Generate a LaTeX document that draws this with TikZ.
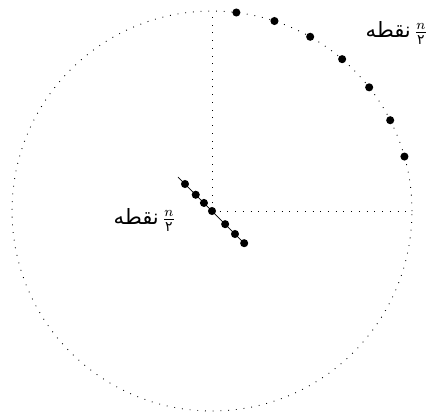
\documentclass[tikz,border=0pt]{standalone}
\usepackage{amsmath}
\usepackage{fontspec}
\newfontfamily\arabicfont[Script=Arabic]{DejaVu Sans}
\TeXXeTstate=1
\newcommand{\halfpts}{{\arabicfont\beginR نقطه\endR}\,$\frac{n}{\text{\arabicfont ۲}}$}

\begin{document}
\begin{tikzpicture}[x=0.02cm,y=0.02cm,
guide/.style={line width=0.5pt,dash pattern=on 0.5pt off 3.9pt},point/.style={circle,fill=black,inner sep=0pt,minimum size=4.6pt},seg/.style={thin,line cap=round},ptlabel/.style={anchor=east,inner sep=0pt,font=\large}]
\useasboundingbox (-212,-203) rectangle (226,211);
\coordinate (O) at (0,0);
\coordinate (T) at (0,200);
\coordinate (R) at (200,0);
\draw[guide] (O) circle[radius=4cm];
\draw[guide] (O) -- (T);
\draw[guide] (O) -- (R);
% points on the arc
\foreach \a [count=\i] in {83,71.8,60.6,49.4,38.2,27,15.8}
  \node[point] (c\i) at (\a:200) {};
% points on the short segment
\coordinate (s) at (135:48);
\foreach \d [count=\i] in {-38.2,-23,-11.4,0,18.6,32.5,45.5}
  \coordinate (l\i) at (-45:\d);
\draw[seg] (s) -- (l7);
\foreach \i in {1,...,7}
  \node[point] at (l\i) {};
\node[ptlabel] (top) at (216,178) {\halfpts};
\node[ptlabel] (mid) at (-36,-9) {\halfpts};
\end{tikzpicture}
\end{document}
